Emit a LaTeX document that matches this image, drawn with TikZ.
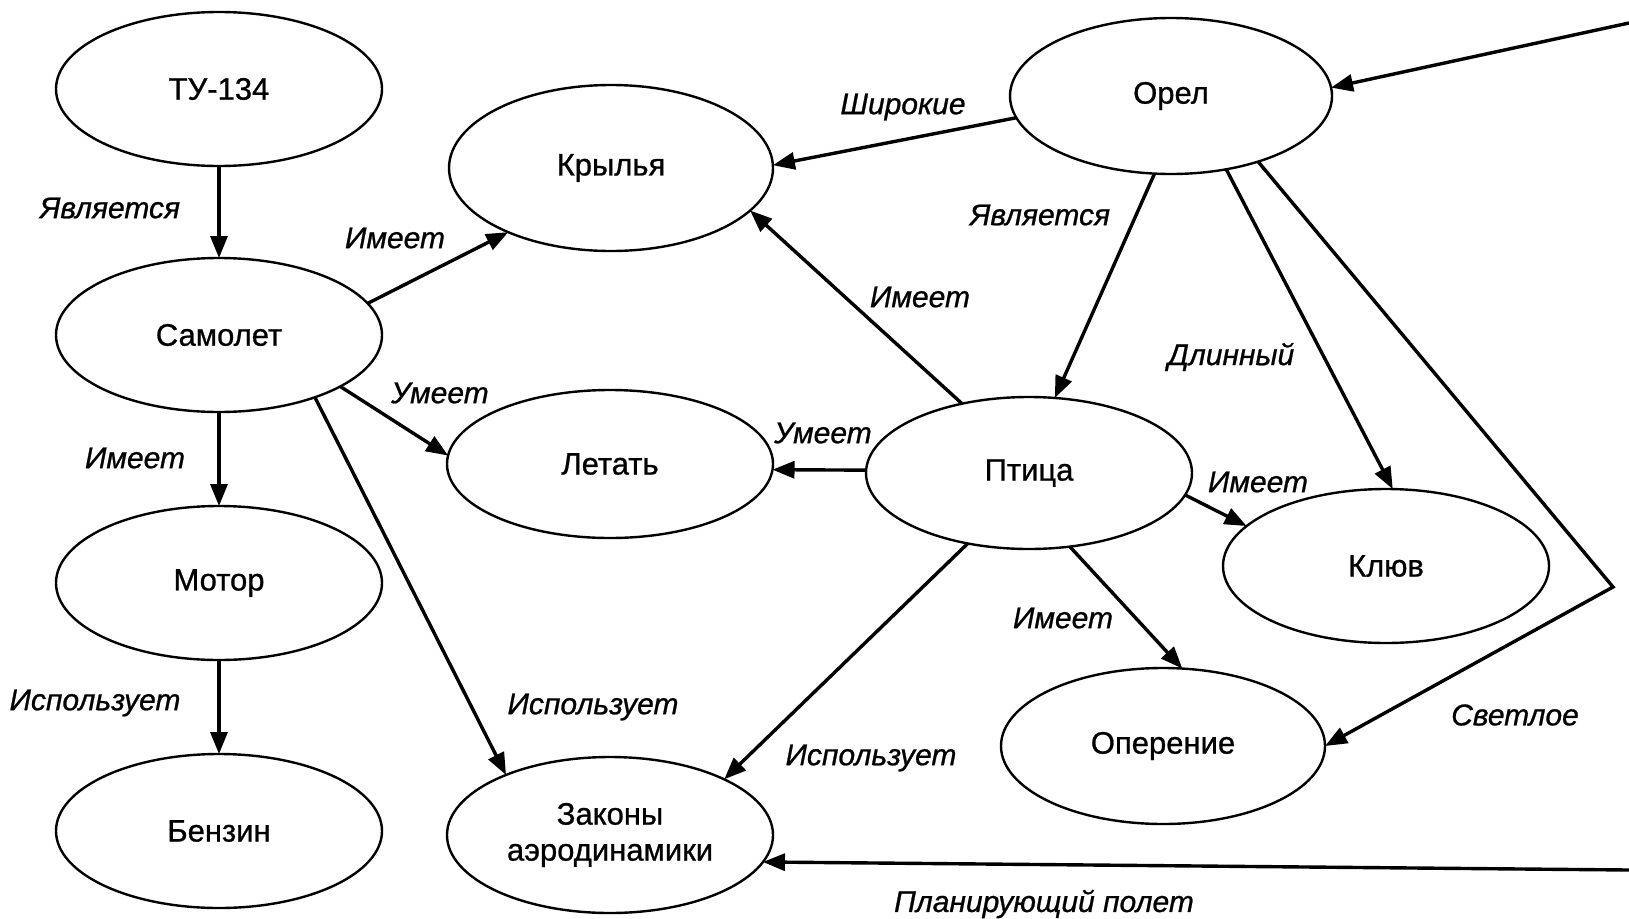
\documentclass[tikz,border=0pt]{standalone}
\usepackage{fontspec}
\setmainfont{Liberation Sans}
\usetikzlibrary{shapes.geometric,arrows.meta}

\tikzset{
  concept/.style={ellipse, draw, line width=2.4pt, minimum width=326pt, minimum height=154pt,
    inner sep=0pt, outer sep=0pt, align=center,
    font=\fontsize{31}{36}\selectfont\addfontfeature{FakeBold=0.8}},
  rel/.style={inner sep=0pt, font=\fontsize{30}{35}\selectfont\itshape\addfontfeature{FakeBold=0.8}},
  link/.style={line width=3.4pt, -{Triangle[length=22pt,width=17pt]}},
}

\begin{document}
\begin{tikzpicture}[x=1pt,y=-1pt]
\useasboundingbox (0,0) rectangle (1629,918);

% concepts
\node[concept] (tu)   at (219,89)   {ТУ-134};
\node[concept] (sam)  at (219,335)  {Самолет};
\node[concept] (mot)  at (219,583)  {Мотор};
\node[concept] (benz) at (219,831)  {Бензин};
\node[concept, minimum width=324pt, minimum height=166pt] (kr) at (611,168) {Крылья};
\node[concept, minimum height=148pt] (let) at (610,464) {Летать};
\node[concept, minimum height=156pt] (zak) at (610,835) {Законы\\аэродинамики};
\node[concept, minimum width=322pt, minimum height=156pt] (orel) at (1171,96) {Орел};
\node[concept, minimum height=152pt] (pt) at (1029,473) {Птица};
\node[concept] (kl) at (1386,566) {Клюв};
\node[concept, minimum width=324pt, minimum height=156pt] (op) at (1163,746) {Оперение};

% loose ends and the bend of the long link
\coordinate (inOrel) at (1629,23);
\coordinate (inZak)  at (1629,870);
\coordinate (bend)   at (1613,587);

% links
\draw[link] (tu.south) -- (sam.north);
\draw[link] (sam.south) -- (mot.north);
\draw[link] (mot.south) -- (benz.north);
\draw[link] (sam.12) -- (kr.212);
\draw[link] (sam.337) -- (let.177);
\draw[link] (sam.327) -- (zak.150);
\draw[link] (orel.188) -- (kr.1);
\draw[link] (orel.258) -- (pt.71);
\draw[link] (orel.307) -- (kl.85);
\draw[link] (orel.323) -- (bend) -- (op.0);
\draw[link] (inOrel) -- (orel.3);
\draw[link] (pt.134) -- (kr.343);
\draw[link] (pt.179) -- (let.358);
\draw[link] (pt.352) -- (kl.164);
\draw[link] (pt.299) -- (op.76);
\draw[link] (pt.229) -- (zak.26);
\draw[link] (inZak) -- (zak.350);

% link labels
\node[rel] (l1)  at (110,208)  {Является};
\node[rel] (l2)  at (395,238)  {Имеет};
\node[rel] (l3)  at (440,393)  {Умеет};
\node[rel] (l4)  at (135,458)  {Имеет};
\node[rel] (l5)  at (95,703)   {Использует};
\node[rel] (l6)  at (593,707)  {Использует};
\node[rel] (l7)  at (903,107)  {Широкие};
\node[rel] (l8)  at (1040,215) {Является};
\node[rel] (l9)  at (920,297)  {Имеет};
\node[rel] (l10) at (1231,357) {Длинный};
\node[rel] (l11) at (823,433)  {Умеет};
\node[rel] (l12) at (1258,482) {Имеет};
\node[rel] (l13) at (1063,618) {Имеет};
\node[rel] (l14) at (871,758)  {Использует};
\node[rel] (l15) at (1515,715) {Светлое};
\node[rel] (l16) at (1044,904) {Планирующий полет};
\end{tikzpicture}
\end{document}
